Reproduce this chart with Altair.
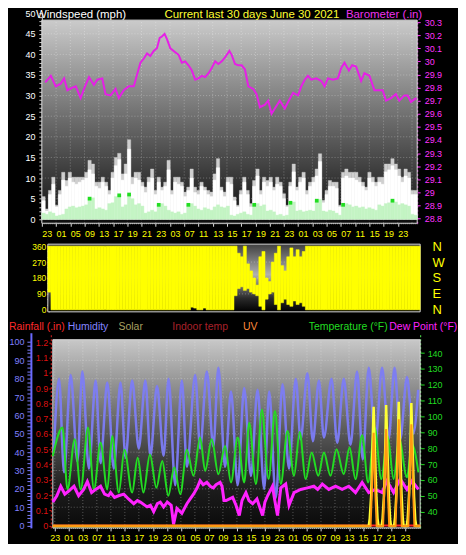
import json
import pandas as pd
import altair as alt

# ---------------- data ----------------
title_texts = ["Windspeed (mph)", "Current last 30 days June 30 2021", "Barometer (.in)"]
legend_texts = ["Rainfall (.in)", "Humidity", "Solar", "Indoor temp", "UV",
                "Temperature (\u00b0F)", "Dew Point (\u00b0F)"]

top_labels = ["23", "01", "05", "09", "13", "17", "19", "21", "23", "03", "07", "11", "13",
              "15", "17", "19", "21", "23", "01", "03", "05", "07", "11", "15", "19", "23"]
bottom_labels = ["23", "01", "03", "07", "11", "13", "17", "19", "23", "01", "05", "07", "09",
                 "13", "15", "19", "23", "01", "05", "07", "09", "13", "15", "17", "21", "23"]
direction_labels = ["N", "E", "S", "W", "N"]

# barometer (inHg) against day of the 30-day window
baro_day = [0.27, 0.72, 1.11, 1.51, 1.78, 2.04, 2.44, 2.71, 3.10, 3.37,
            3.77, 4.16, 4.43, 4.83, 5.09, 5.49, 5.89, 6.15, 6.55, 6.95,
            7.35, 7.61, 7.88, 8.14, 8.41, 8.67, 8.94, 9.20, 9.42, 9.60,
            9.81, 10.00, 10.27, 10.66, 10.93, 11.19, 11.46, 11.72, 11.99, 12.26,
            12.52, 12.79, 13.05, 13.32, 13.58, 13.85, 14.11, 14.38, 14.64, 14.99,
            15.17, 15.44, 15.70, 15.97, 16.23, 16.50, 16.90, 17.16, 17.43, 17.83,
            18.09, 18.36, 18.62, 19.02, 19.42, 19.68, 20.08, 20.48, 20.74, 21.01,
            21.27, 21.54, 21.94, 22.34, 22.60, 22.87, 23.26, 23.66, 23.93, 24.19,
            24.54, 24.80, 25.12, 25.52, 25.78, 26.18, 26.58, 26.98, 27.24, 27.51,
            27.91, 28.30, 28.57, 28.97, 29.23, 29.50, 29.76, 29.95]
baro_inhg = [29.84, 29.89, 29.81, 29.83, 29.87, 29.78, 29.80, 29.81, 29.72, 29.79,
             29.88, 29.82, 29.86, 29.87, 29.75, 29.74, 29.79, 29.72, 29.78, 29.81,
             29.81, 29.90, 29.99, 30.02, 30.06, 30.04, 30.08, 30.10, 30.18, 30.19,
             30.21, 30.17, 30.10, 30.07, 30.05, 29.99, 30.00, 29.97, 29.93, 29.86,
             29.87, 29.89, 29.88, 29.91, 29.95, 30.00, 29.98, 30.00, 30.03, 30.08,
             30.05, 29.98, 29.97, 29.97, 29.94, 29.81, 29.79, 29.75, 29.65, 29.67,
             29.70, 29.60, 29.64, 29.70, 29.64, 29.69, 29.76, 29.74, 29.81, 29.86,
             29.89, 29.86, 29.87, 29.85, 29.81, 29.87, 29.86, 29.87, 29.95, 29.99,
             29.93, 29.97, 29.96, 29.85, 29.91, 29.89, 29.78, 29.78, 29.78, 29.70,
             29.72, 29.75, 29.70, 29.74, 29.74, 29.69, 29.71, 29.72]

# wind (mph), consecutive equal intervals across the 30 days
gust_mph = [5.5, 2.5, 7, 10.2, 3.4, 7, 11.4, 9.4, 11.4, 10.2,
            10.2, 10.2, 10.2, 11.4, 14.3, 13.4, 9, 9, 10.2, 9,
            7, 11.4, 15, 16, 11, 13.4, 19.3, 10.2, 11.4, 11.4,
            9, 7.8, 10.2, 12.2, 7, 10.2, 7.8, 9, 14.3, 7,
            10.2, 10.2, 9, 6.6, 7.8, 12.2, 7.8, 7, 9, 7.8,
            7, 6.6, 11, 14.7, 7.8, 6.6, 10.2, 10.2, 5.4, 3.4,
            7, 10.2, 7, 3.8, 9.4, 12.2, 7, 10.2, 9.4, 10.2,
            7.8, 10.2, 9, 6.2, 3.4, 9, 13.4, 7.8, 10.2, 11.4,
            7, 9, 10.2, 12.2, 15.9, 4.6, 7, 9.4, 9, 9,
            3.4, 11.4, 12.2, 11.4, 11.4, 11.4, 10.2, 9, 7.8, 11.4,
            10.2, 9, 10.2, 10.2, 13.4, 13.4, 14.7, 13.4, 12.2, 10.2,
            12.2, 11.4, 7, 7]
wind_mph = [4.5, 2, 6, 8.5, 3, 6, 9.5, 8, 10, 9,
            8.5, 9, 9.5, 10, 12, 11, 8, 7.5, 9, 8,
            6, 10, 13, 14.5, 9.5, 11, 17, 8.5, 10, 9.5,
            8, 6.5, 9, 10, 6, 9, 7, 8, 12, 6,
            9, 8.5, 8, 5.5, 7, 10, 6.5, 6, 8, 7,
            6, 5.5, 9.5, 12.5, 7, 5.5, 9, 8.5, 4.5, 3,
            6, 9, 6, 3, 8, 10.5, 6, 9, 8, 9,
            7, 8.5, 8, 5, 3, 8, 11.5, 7, 9, 10,
            6, 8, 9, 10.5, 14, 4, 6, 8, 8, 7.5,
            3, 10, 10.5, 10, 10, 9.5, 9, 8, 7, 10,
            9, 8, 9, 8.5, 11.5, 12, 13, 12, 10.5, 9,
            10.5, 10, 6, 6]
avg_mph = [1.5, 1.2, 1.8, 1.5, 0.8, 1, 1.2, 2.5, 3, 3.2,
           2.8, 3, 3.2, 3.5, 5, 5.2, 2.5, 2.8, 2.5, 2.2,
           3.8, 4, 5.5, 5.8, 3, 3.5, 6, 5, 3.5, 3.8,
           3.2, 1.5, 1.8, 2.2, 1.8, 3.5, 3.8, 3.2, 2.2, 1.8,
           1.5, 1.8, 1.2, 1.5, 3.5, 3.8, 3.2, 2.5, 2.2, 2.8,
           2.5, 2.2, 3, 3.5, 3, 2.8, 3.2, 1, 0.8, 1.2,
           1.5, 1.8, 1.2, 1, 3.5, 3.8, 3.2, 3.5, 2, 2.2,
           1.8, 1, 1.2, 0.8, 1, 4, 4.2, 2, 2.2, 1.8,
           2, 2.2, 2, 4.5, 4.8, 2, 1.8, 2.2, 2, 1.5,
           1, 3.5, 3.8, 3.5, 3, 3.2, 2.8, 3, 2.5, 2.8,
           2.5, 2.2, 3.5, 3.2, 3.8, 4, 4.5, 4.2, 3.5, 3.8,
           3.5, 3.2, 1.2, 1]
green_idx = [14, 23, 26, 35, 44, 64, 75, 83, 91, 106]

# wind direction (degrees): lowest and highest reading per interval
dir_lo = [100, 0, 0, 0, 0, 0, 0, 0, 0, 0, 0, 0, 0, 0, 0, 0, 0, 0, 0, 0,
          0, 0, 0, 0, 0, 0, 0, 0, 0, 0, 0, 0, 0, 0, 0, 0, 0, 0, 0, 0,
          0, 0, 0, 0, 0, 0, 15, 10, 0, 0, 10, 0, 0, 0, 0, 0, 0, 0, 0, 0,
          80, 120, 130, 110, 120, 100, 90, 80, 20, 0, 60, 90, 100, 30, 0, 40, 60, 30, 20, 50,
          30, 40, 20, 0, 0, 0, 0, 0, 0, 0, 0, 0, 0, 0, 0, 0, 0, 0, 0, 0,
          0, 0, 0, 0, 0, 0, 0, 0, 0, 0, 0, 0, 0, 0, 0, 0, 0, 0, 0, 0]
dir_hi = [360, 360, 360, 360, 360, 360, 360, 360, 360, 360, 360, 360, 360, 360, 360, 360, 360, 360, 360, 360,
          360, 360, 360, 360, 360, 360, 360, 360, 360, 360, 360, 360, 360, 360, 360, 360, 360, 360, 360, 360,
          360, 360, 360, 360, 360, 360, 360, 360, 360, 360, 360, 360, 360, 360, 360, 360, 360, 360, 360, 360,
          360, 320, 300, 360, 260, 220, 180, 140, 300, 330, 180, 160, 270, 320, 360, 250, 220, 300, 350, 300,
          340, 300, 330, 360, 360, 360, 360, 360, 360, 360, 360, 360, 360, 360, 360, 360, 360, 360, 360, 360,
          360, 360, 360, 360, 360, 360, 360, 360, 360, 360, 360, 360, 360, 360, 360, 360, 360, 360, 360, 360]

hum_day = [0.08, 0.51, 0.92, 1.46, 2.01, 2.41, 2.95, 3.50, 3.90, 4.45,
           4.98, 5.53, 5.94, 6.48, 7.02, 7.56, 7.97, 8.51, 9.05, 9.45,
           10.00, 10.54, 10.95, 11.63, 12.03, 12.58, 13.11, 13.52, 14.07, 14.55,
           15.10, 15.63, 16.18, 16.72, 17.26, 17.67, 18.21, 18.76, 19.29, 19.84,
           20.24, 20.79, 21.24, 21.73, 22.14, 22.76, 23.23, 23.76, 24.31, 24.85,
           25.31, 25.80, 26.34, 26.89, 27.42, 27.91, 28.37, 28.92, 29.43, 29.84]
hum_pct = [40, 80, 29, 82, 35, 84, 31, 79, 34, 78,
           31, 78, 37, 79, 42, 79, 38, 76, 38, 80,
           22, 79, 32, 82, 42, 84, 43, 86, 32, 73,
           22, 75, 27, 74, 20, 73, 15, 77, 31, 80,
           47, 83, 46, 79, 48, 80, 45, 80, 44, 84,
           36, 86, 45, 86, 47, 86, 47, 81, 50, 74]

temp_day = [0.00, 0.79, 1.20, 1.79, 2.28, 2.87, 3.36, 3.90, 4.45, 4.85,
            5.39, 5.85, 6.48, 6.93, 7.40, 7.93, 8.46, 8.94, 9.43, 9.92,
            10.41, 10.95, 11.49, 12.03, 12.44, 12.98, 13.52, 14.07, 14.55, 15.10,
            15.63, 16.04, 16.59, 17.07, 17.62, 18.15, 18.62, 19.16, 19.70, 20.16,
            20.65, 21.14, 21.68, 22.14, 22.68, 23.17, 23.76, 24.23, 24.72, 25.26,
            25.75, 26.28, 26.83, 27.34, 27.83, 28.29, 28.92, 29.33, 29.86]
temp_f = [75, 93, 54, 85.6, 54, 93, 54, 83.5, 54, 87.7,
          52, 79, 52, 74, 52, 76, 55, 72, 50, 68,
          51, 79, 62.6, 86.7, 65.7, 85.6, 63.6, 81.4, 58.4, 86.7,
          58.4, 96, 57.4, 104.4, 60.5, 103.4, 57.4, 90.8, 62.6, 90.2,
          60.5, 77.3, 62.6, 77.3, 62.6, 79.3, 63.6, 80.4, 60.5, 88.1,
          58.4, 93, 60.5, 87.7, 60.5, 85.6, 61.6, 82.5, 64.7]

dew_day = [0.00, 0.33, 0.65, 0.98, 1.30, 1.73, 2.11, 2.52, 2.82, 3.17,
           3.50, 3.90, 4.23, 4.55, 4.72, 5.04, 5.37, 5.80, 6.18, 6.61,
           6.91, 7.15, 7.70, 7.97, 8.24, 8.54, 8.78, 9.05, 9.35, 9.67,
           9.86, 10.14, 10.54, 10.95, 11.22, 11.49, 11.79, 12.03, 12.28, 12.58,
           12.85, 13.11, 13.33, 13.66, 13.82, 13.98, 14.15, 14.69, 14.96, 15.23,
           15.45, 15.77, 16.02, 16.32, 16.67, 17.13, 17.32, 17.54, 17.94, 18.13,
           18.35, 18.62, 19.02, 19.29, 19.70, 20.24, 20.79, 21.32, 21.63, 22.01,
           22.54, 23.09, 23.63, 24.17, 24.72, 25.26, 25.80, 26.34, 26.89, 27.29,
           27.83, 28.37, 28.92, 29.33, 29.86]
dew_f = [46, 50, 56, 51, 53, 56, 50, 54, 59, 52,
         54, 56, 51, 50, 52, 49, 50, 51, 48, 45,
         47, 46, 43, 44, 40, 45, 46, 43, 46, 44,
         32, 42, 39, 45, 48, 51, 55, 59.5, 57, 58.5,
         56, 55, 57, 58.5, 56, 47, 47, 49, 44, 37.5,
         47, 52, 47, 45, 48, 37.5, 46, 50, 56, 47,
         37.5, 55, 57.4, 44, 52, 54, 55, 56, 54, 57.4,
         54, 56, 54, 56, 52, 58.4, 52, 54, 52, 59.4,
         52, 60.5, 54, 59.4, 54]

solar_day = [0, 25.80, 25.88, 26.00, 26.12, 26.20, 26.30, 26.42, 26.52, 26.60,
             26.85, 26.93, 27.05, 27.17, 27.22, 27.33, 27.45, 27.55, 27.62,
             27.87, 27.95, 28.07, 28.19, 28.25, 28.36, 28.48, 28.58, 28.65,
             28.90, 28.98, 29.10, 29.22, 29.28, 29.38, 29.50, 29.60, 29.68, 30]
solar_wm2 = [0, 0, 60, 250, 700, 960, 620, 250, 60, 0,
             0, 60, 260, 720, 975, 600, 230, 50, 0,
             0, 70, 280, 740, 1000, 650, 260, 60, 0,
             0, 60, 270, 730, 990, 620, 240, 50, 0, 0]

uv_day = [0, 25.95, 26.08, 26.20, 26.32, 26.45, 26.97, 27.10, 27.22, 27.34, 27.47,
          27.99, 28.12, 28.25, 28.37, 28.50, 29.03, 29.15, 29.28, 29.40, 29.53, 30]
uv_index = [0, 0, 3.5, 7.5, 3.2, 0, 0, 3.8, 7.8, 3.4, 0,
            0, 4.2, 8.6, 3.8, 0, 0, 4, 8.2, 3.6, 0, 0]

rain_day = [0, 30]
rain_in = [0, 0]

# ---------------- layout & style ----------------
FONT = "Liberation Sans"
W = 380
H1, H2, H3 = 204, 68, 196
GAP = 21
TOP_STEP = 1.138
BOT0, BOT_STEP = 0.163, 1.144
top_ticks = [round(k * TOP_STEP, 3) for k in range(len(top_labels))]
top_grid = [round(k * TOP_STEP, 3) for k in range(1, 27)]
bot_ticks = [round(BOT0 + k * BOT_STEP, 3) for k in range(len(bottom_labels))]

WS_DOM = [-0.966, 48.31]
WS_AXIS_DOM, WS_AXIS_RANGE = [-0.966, 50], [H1, -7]
BARO_DOM = [28.764, 30.315]
DIR_DOM = [-11.25, 371.25]
HUM_DOM = [-1.25, 105.04]
HUM_BG = [-1.25, 101.25]
RAIN_DOM = [-0.015, 1.2635]
TEMP_DOM = [29.75, 152.8]
SOLAR_DOM = [-15, 1556]
UV_DOM = [-0.15, 15.56]
X_DOM = [0, 30]

ONE = pd.DataFrame({"k": [0]})
GRID = dict(color="#ffffff", strokeDash=[1, 2], strokeOpacity=0.3, strokeWidth=1)


def grad(stops):
    return alt.LinearGradient(gradient="linear", x1=0, y1=0, x2=0, y2=1,
                              stops=[alt.GradientStop(color=c, offset=o) for o, c in stops])


def txt(label, x, y, color, size, align="left", baseline="middle"):
    return alt.Chart(ONE).mark_text(text=label, align=align, baseline=baseline, color=color,
                                    font=FONT, fontSize=size).encode(x=alt.value(x), y=alt.value(y))


def lin(dom, rng=None):
    if rng is None:
        return alt.Scale(domain=dom, nice=False, zero=False)
    return alt.Scale(domain=dom, range=rng, nice=False, zero=False)


def background(xs, ydom, plotdom, stops):
    df = pd.DataFrame({"x0": [X_DOM[0]], "x1": [X_DOM[1]], "y0": [plotdom[0]], "y1": [plotdom[1]]})
    return alt.Chart(df).mark_rect(fill=grad(stops), stroke="#d8d8d8", strokeWidth=1).encode(
        x=alt.X("x0:Q", scale=xs, axis=None), x2="x1",
        y=alt.Y("y0:Q", scale=lin(ydom), axis=None), y2="y1")


def hgrid(values, xs, ydom):
    df = pd.DataFrame({"v": values, "x0": [X_DOM[0]] * len(values), "x1": [X_DOM[1]] * len(values)})
    return alt.Chart(df).mark_rule(**GRID).encode(
        y=alt.Y("v:Q", scale=lin(ydom), axis=None), x=alt.X("x0:Q", scale=xs, axis=None), x2="x1")


def vgrid(values, xs, ydom, plotdom):
    df = pd.DataFrame({"g": values, "y0": [plotdom[0]] * len(values), "y1": [plotdom[1]] * len(values)})
    return alt.Chart(df).mark_rule(**GRID).encode(
        x=alt.X("g:Q", scale=xs, axis=None), y=alt.Y("y0:Q", scale=lin(ydom), axis=None), y2="y1")


def carrier(xs, ydom, xaxis, yaxis, yrange=None):
    """Invisible layer that only carries axes."""
    df = pd.DataFrame({"x": X_DOM, "y": ydom})
    return alt.Chart(df).mark_point(opacity=0, size=1).encode(
        x=alt.X("x:Q", scale=xs, axis=xaxis), y=alt.Y("y:Q", scale=lin(ydom, yrange), axis=yaxis))


def ax(**kw):
    base = dict(labelFont=FONT, labelFontSize=9, grid=False, title=None, labelOverlap=False, labelFlush=False)
    base.update(kw)
    return alt.Axis(**base)


# ======== panel 1 : wind speed + barometer ========
xs1 = alt.Scale(domain=X_DOM, range=[0, 377], nice=False, zero=False)
N = len(gust_mph)
wind_df = pd.DataFrame({"t0": [i * 30 / N for i in range(N)],
                        "t1": [(i + 1) * 30 / N for i in range(N)],
                        "gust": gust_mph, "wind": wind_mph, "avg": avg_mph, "zero": [0] * N})
green_df = pd.DataFrame({"day": [(i + 0.5) * 30 / N for i in green_idx],
                         "avg": [avg_mph[i] for i in green_idx]})
baro_df = pd.DataFrame({"day": baro_day, "inhg": baro_inhg})

x_axis_top = ax(orient="bottom", values=top_ticks,
                labelExpr=f"{json.dumps(top_labels)}[round(datum.value / {TOP_STEP})]",
                labelAlign="left", labelColor="#ffff00", labelPadding=3, tickColor="#dddddd", tickSize=3,
                domainColor="#bbbbbb", domainDash=[1, 1])
ws_axis = ax(orient="left", values=list(range(0, 51)), labelExpr="datum.value % 5 == 0 ? datum.label : ''",
             labelColor="#ffffff", tickColor="#cccccc", tickSize=3, labelPadding=4, domainColor="#cccccc")
baro_axis = ax(orient="right", offset=-3, values=[round(28.8 + 0.1 * k, 1) for k in range(16)],
               format=".1~f", labelColor="#ff33ff", tickColor="#ff33ff", tickSize=3, labelPadding=4,
               domainColor="#ff33ff", domainDash=[2, 2])


def bars(field, color):
    return alt.Chart(wind_df).mark_rect(color=color, stroke=color, strokeWidth=0.4).encode(
        x=alt.X("t0:Q", scale=xs1, axis=None), x2="t1",
        y=alt.Y(f"{field}:Q", scale=lin(WS_DOM), axis=None), y2="zero")


p1_layers = [
    carrier(xs1, WS_AXIS_DOM, x_axis_top, ws_axis, WS_AXIS_RANGE),
    background(xs1, WS_DOM, WS_DOM, [(0, "#cbcbcb"), (0.5, "#6a6a6a"), (1, "#0d0d0d")]),
    vgrid(top_grid, xs1, WS_DOM, WS_DOM),
    hgrid(list(range(5, 50, 5)), xs1, WS_DOM),
    bars("gust", "#cfcfcf"),
    bars("wind", "#ffffff"),
    bars("avg", "#c4f4c4"),
    alt.Chart(green_df).mark_square(color="#22dd22", size=14, opacity=1).encode(
        x=alt.X("day:Q", scale=xs1, axis=None), y=alt.Y("avg:Q", scale=lin(WS_DOM), axis=None)),
    alt.Chart(baro_df).mark_line(color="#e61fe6", strokeWidth=2).encode(
        x=alt.X("day:Q", scale=xs1, axis=None), y=alt.Y("inhg:Q", scale=lin(BARO_DOM), axis=baro_axis)),
    txt(title_texts[0], -6, -11, "#ffffff", 11.5, baseline="top"),
    txt(title_texts[1], 211, -11, "#ffff33", 11.5, align="center", baseline="top"),
    txt(title_texts[2], 382, -11, "#ee33ee", 11.5, align="right", baseline="top"),
]
panel1 = alt.layer(*p1_layers).resolve_scale(y="independent").resolve_axis(x="independent").properties(
    width=W, height=H1)

# ======== panel 2 : wind direction ========
xs2 = alt.Scale(domain=X_DOM, range=[6, 380], nice=False, zero=False)
M = len(dir_lo)
dir_df = pd.DataFrame({"t0": [i * 30 / M for i in range(M)], "t1": [(i + 1) * 30 / M for i in range(M)],
                       "lo": dir_lo, "hi": dir_hi})
dir_axis_l = ax(orient="left", offset=-7, values=list(range(0, 361, 30)),
                labelExpr="datum.value % 90 == 0 ? datum.label : ''", labelColor="#ffff00",
                labelFontSize=8.5, tickColor="#dddd00", tickSize=2, labelPadding=1, domainColor="#cccccc")
dir_axis_r = ax(orient="right", values=[0, 90, 180, 270, 360],
                labelExpr=f"{json.dumps(direction_labels)}[round(datum.value / 90)]",
                labelColor="#ffff00", labelFontSize=13, ticks=False, domain=False, labelPadding=12)

p2_layers = [
    background(xs2, DIR_DOM, DIR_DOM, [(0, "#404040"), (0.45, "#b0b0b0"), (0.8, "#2a2a2a"), (1, "#000000")]),
    carrier(xs2, DIR_DOM, None, dir_axis_l),
    carrier(xs2, DIR_DOM, None, dir_axis_r),
    hgrid([90, 180, 270], xs2, DIR_DOM),
    alt.Chart(dir_df).mark_rect(color="#ffff00", stroke="#ffff00", strokeWidth=0.5).encode(
        x=alt.X("t0:Q", scale=xs2, axis=None), x2="t1",
        y=alt.Y("hi:Q", scale=lin(DIR_DOM), axis=None), y2="lo"),
]
panel2 = alt.layer(*p2_layers).resolve_scale(y="independent").properties(width=W, height=H2)

# ======== panel 3 : rain / humidity / temperature ... ========
xs3 = alt.Scale(domain=X_DOM, range=[11, 380], nice=False, zero=False)
x_axis_bot = ax(orient="bottom", values=bot_ticks,
                labelExpr=f"{json.dumps(bottom_labels)}[round((datum.value - {BOT0}) / {BOT_STEP})]",
                labelColor="#ffff00", labelPadding=3, tickColor="#dddddd", tickSize=3,
                domainColor="#bbbbbb", domainDash=[1, 1])
hum_axis = ax(orient="left", offset=11, values=list(range(0, 101, 2)),
              labelExpr="datum.value % 10 == 0 ? datum.label : ''", labelColor="#8080ff",
              tickColor="#8080ff", tickSize=4, labelPadding=3, domainColor="#6a6aff", domainWidth=2)
rain_axis = ax(orient="left", offset=-9, values=[round(0.1 * k, 1) for k in range(13)],
               format=".1~f", labelColor="#dd1111", tickColor="#dd1111", tickSize=2, labelPadding=1,
               domainColor="#dd2222", domainDash=[2, 2])
temp_axis = ax(orient="right", values=list(range(40, 141, 10)), labelColor="#22dd22",
               tickColor="#22dd22", tickSize=4, labelPadding=3, domainColor="#55ee55", domainDash=[2, 2])


def series(day, vals, ydom, color, width, interp="linear", opacity=1.0):
    df = pd.DataFrame({"day": day, "v": vals})
    return alt.Chart(df).mark_line(color=color, strokeWidth=width, interpolate=interp, opacity=opacity).encode(
        x=alt.X("day:Q", scale=xs3, axis=None), y=alt.Y("v:Q", scale=lin(ydom), axis=None))


legend_colors = ["#ff2a2a", "#8484ff", "#a8a060", "#a8202a", "#ff8a3a", "#22dd22", "#ff22ff"]
legend_x = [-33, 26, 77, 131, 202, 268, 349]

p3_layers = [
    carrier(xs3, HUM_DOM, x_axis_bot, hum_axis),
    background(xs3, HUM_DOM, HUM_BG, [(0, "#c8c8c8"), (0.5, "#565656"), (0.8, "#1c1c1c"), (1, "#0a0a0a")]),
    carrier(xs3, RAIN_DOM, None, rain_axis),
    carrier(xs3, TEMP_DOM, None, temp_axis),
    vgrid(bot_ticks, xs3, HUM_DOM, HUM_BG),
    hgrid(list(range(10, 100, 10)), xs3, HUM_DOM),
    series(hum_day, hum_pct, HUM_DOM, "#7c7cf6", 2.5, "monotone", 0.95),
    series(temp_day, temp_f, TEMP_DOM, "#22dd22", 2, "monotone"),
    series(dew_day, dew_f, TEMP_DOM, "#ff22ff", 3),
    series(rain_day, rain_in, RAIN_DOM, "#ff2020", 2),
    series(solar_day, solar_wm2, SOLAR_DOM, "#ffff33", 2.5),
    series(uv_day, uv_index, UV_DOM, "#ff9a10", 2),
] + [txt(t, x, -6, c, 10.5) for t, x, c in zip(legend_texts, legend_x, legend_colors)]
panel3 = alt.layer(*p3_layers).resolve_scale(y="independent").resolve_axis(x="independent").properties(
    width=W, height=H3)

chart = alt.vconcat(panel1, panel2, panel3, spacing=GAP, bounds="flush").properties(
    background="#000000", padding=0, autosize=alt.AutoSizeParams(type="pad")
).configure_view(strokeWidth=0)

chart.save("out.html", embed_options={"renderer": "svg", "actions": False})
